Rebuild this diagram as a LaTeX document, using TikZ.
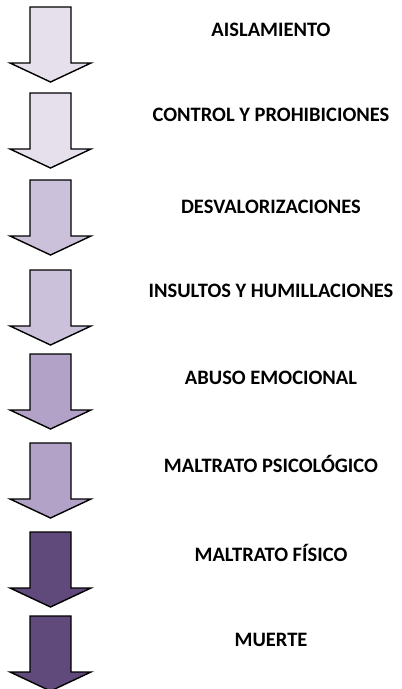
\documentclass[tikz,border=0pt]{standalone}
\usepackage{fontspec}
\setmainfont{Carlito}
\usepackage{xcolor}
\usepackage{tikz}
\usetikzlibrary{positioning, calc}

\definecolor{lilaA}{HTML}{E6E0EC}
\definecolor{lilaB}{HTML}{CCC1DA}
\definecolor{lilaC}{HTML}{B3A2C7}
\definecolor{lilaD}{HTML}{604A7B}

\begin{document}
\begin{tikzpicture}[
  x=1pt, y=-1pt,
  flecha/.style={draw=black, line width=1.4pt, line join=miter},
  etiqueta/.style={font=\bfseries\fontsize{20.5}{24}\selectfont, inner sep=0pt}
]
  \useasboundingbox (0,0) rectangle (402,689);
  \foreach \yt/\col/\ty/\txt [count=\i] in {
      7/lilaA/30/AISLAMIENTO,
      93/lilaA/115/CONTROL Y PROHIBICIONES,
      180/lilaB/207/DESVALORIZACIONES,
      270/lilaB/291/INSULTOS Y HUMILLACIONES,
      354/lilaC/378/ABUSO EMOCIONAL,
      443/lilaC/464/MALTRATO PSICOLÓGICO,
      532/lilaD/553/MALTRATO FÍSICO,
      616/lilaD/640/MUERTE}{
    \coordinate (flecha\i) at (50.5,\yt);
    \draw[flecha, fill=\col] (flecha\i) ++(-20.5,0) -- ++(41,0) -- ++(0,56) -- ++(20,0)
      -- ($(flecha\i)+(0,75)$) -- ++(-40.5,-19) -- ++(20,0) -- cycle;
    \node[etiqueta] (etiqueta\i) at (271,\ty) {\txt};
  }
\end{tikzpicture}
\end{document}
